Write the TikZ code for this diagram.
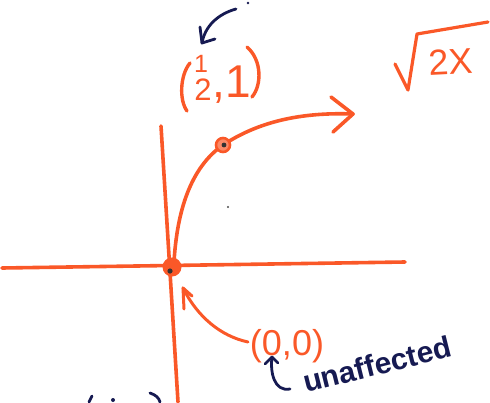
\documentclass[tikz,border=0pt]{standalone}
\usepackage{fontspec}
\setmainfont{Liberation Sans}
\definecolor{pen}{RGB}{250,88,40}
\definecolor{ink}{RGB}{22,26,82}
\begin{document}
\begin{tikzpicture}[x=1pt,y=-1pt,
  orangeline/.style={draw=pen,line width=3.6pt,line cap=round,line join=round},
  inkline/.style={draw=ink,line width=2.8pt,line cap=round,line join=round},
  orangetext/.style={text=pen,inner sep=0pt},
  inktext/.style={text=ink,inner sep=0pt}]
\useasboundingbox (0,0) rectangle (490,402);
% axes
\coordinate (ytop) at (161,126);
\coordinate (ybot) at (178,402);
\coordinate (xl) at (2,268);
\coordinate (xr) at (405,262);
\draw[orangeline] (ytop) -- (ybot);
\draw[orangeline] (xl) -- (xr);
% points
\coordinate (O) at (172,267);
\coordinate (P) at (223,145);
% curve
\coordinate (tip) at (353,114);
\coordinate (b1) at (331,97);
\coordinate (b2) at (333,132);
\draw[orangeline] (174,262) .. controls (177,212) and (190,168) .. (P)
   .. controls (258,122) and (300,112) .. (tip);
\draw[orangeline] (b1) -- (tip) -- (b2);
% point markers
\node[circle,fill=pen,minimum size=19pt,inner sep=0pt] (origin) at (O) {};
\fill[black!80] (170,271) circle (2.6pt);
\node[circle,draw=pen,fill=pen!70,line width=2.6pt,minimum size=14pt,inner sep=0pt] (pt) at (P) {};
\fill[black!80] (224,145) circle (2.4pt);
% label (1/2,1)
\draw[orangeline,line width=3.4pt] (190,63) .. controls (180,75) and (179,100) .. (187,111);
\draw[orangeline,line width=3.4pt] (247,47) .. controls (262,60) and (262,85) .. (252,97);
\node[orangetext,font=\fontsize{25}{26}\selectfont] (num) at (201,64) {1};
\node[orangetext,font=\fontsize{31}{32}\selectfont] (den) at (203,90) {2};
\node[orangetext,font=\fontsize{46}{48}\selectfont,anchor=base] (one) at (232,97) {,1};
% sqrt 2x
\coordinate (r1) at (395,64);
\coordinate (r2) at (408,90);
\coordinate (r3) at (417,34);
\coordinate (r4) at (488,22);
\draw[orangeline,line width=3.2pt] (r1) -- (r2) -- (r3) -- (r4);
\node[orangetext,font=\fontsize{36}{38}\selectfont,rotate=3] (twox) at (451,62) {2X};
% navy arrow to (1/2,1)
\coordinate (na) at (236,9);
\coordinate (nt) at (202,43);
\draw[inkline] (na) .. controls (218,14) and (205,26) .. (nt);
\draw[inkline] (200,27) -- (nt) -- (215,39);
\fill[ink] (248,3) circle (1.3pt);
\fill[black!70] (228,207) circle (1.2pt);
% (0,0) label and arrow
\node[orangetext,font=\fontsize{36}{38}\selectfont] (zero) at (287,346) {(0,0)};
\coordinate (zt) at (183,288);
\draw[orangeline,line width=3pt] (248,342) .. controls (220,336) and (197,316) .. (zt);
\draw[orangeline,line width=3pt] (192,296) -- (zt) -- (184,309);
% unaffected
\node[inktext,font=\bfseries\fontsize{30}{33}\selectfont,anchor=base west,rotate=14] (unaff) at (306,393) {unaffected};
\coordinate (ht) at (272,357);
\draw[inkline] (ht) .. controls (270,372) and (274,392) .. (290,389);
\draw[inkline] (265,364) -- (ht) -- (278,363);
% bottom-left fragments
\draw[inkline] (92,396) -- (89,402);
\fill[ink] (113,400) circle (2pt);
\draw[inkline] (150,393) .. controls (156,395) and (159,398) .. (160,402);
\end{tikzpicture}
\end{document}
